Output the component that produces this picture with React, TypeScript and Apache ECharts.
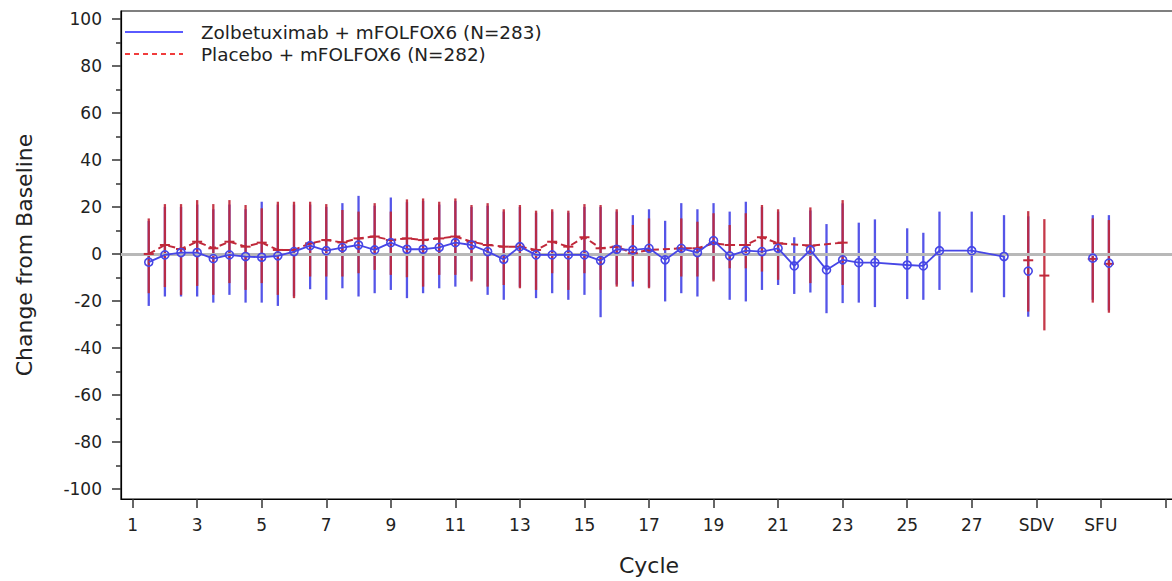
import { useEffect, useRef } from "react";
import * as echarts from "echarts";

// ---------- data ----------
const xTickValues = [1, 3, 5, 7, 9, 11, 13, 15, 17, 19, 21, 23, 25, 27, 29, 31, 33];
const xTickLabels = ["1", "3", "5", "7", "9", "11", "13", "15", "17", "19", "21", "23", "25", "27", "SDV", "SFU", ""];
const yTickValues = [-100, -80, -60, -40, -20, 0, 20, 40, 60, 80, 100];
const yMinorTickValues = [-90, -70, -50, -30, -10, 10, 30, 50, 70, 90];

const zolbVisit = [1.5, 2, 2.5, 3, 3.5, 4, 4.5, 5, 5.5, 6, 6.5, 7, 7.5, 8, 8.5, 9, 9.5, 10, 10.5, 11, 11.5, 12, 12.5, 13, 13.5, 14, 14.5, 15, 15.5, 16, 16.5, 17, 17.5, 18, 18.5, 19, 19.5, 20, 20.5, 21, 21.5, 22, 22.5, 23, 23.5, 24, 25, 25.5, 26, 27, 28];
const zolbMean = [-3.5, -0.4, 0.6, 0.6, -2.0, -0.4, -1.1, -1.4, -0.8, 1.0, 3.5, 1.4, 2.7, 3.8, 1.7, 4.8, 2.0, 2.0, 2.8, 4.8, 3.8, 1.0, -2.3, 3.1, -0.4, -0.4, -0.4, -0.4, -2.8, 2.0, 1.7, 2.4, -2.5, 2.4, 0.6, 5.7, -0.8, 1.4, 1.0, 2.4, -5.1, 1.7, -6.8, -2.5, -3.7, -3.7, -4.7, -5.1, 1.4, 1.4, -1.1];
const zolbLow = [-22.1, -18.1, -18.1, -18.1, -20.7, -17.4, -20.7, -20.7, -22.1, -18, -15, -19.5, -14.6, -18.1, -16.7, -15.3, -18.8, -16.7, -14.6, -13.9, -11, -17.4, -19.5, -14, -18.8, -16.7, -19.5, -17.4, -26.9, -13, -13.9, -14, -20.2, -16.7, -18.1, -11, -19.5, -20.2, -15.3, -13.2, -17.0, -16.4, -25.2, -20.9, -20.7, -22.6, -19.2, -19.5, -15.3, -16.4, -18.4];
const zolbHigh = [14, 20, 20, 21, 19, 21, 19, 22.2, 21, 21, 21, 20, 21.6, 24.7, 20.5, 24.0, 22, 22.5, 21, 22.5, 20, 20.5, 18, 20, 17.5, 18, 17.5, 20, 20, 18, 16.5, 19.0, 14.1, 21.6, 19.0, 21.6, 18.0, 22.2, 20, 18, 7.1, 18.5, 12.7, 21.5, 13.3, 14.7, 10.9, 9.0, 18.0, 18.0, 16.5];

const zolbExtraVisit = [28.75, 30.75, 31.25];
const zolbExtraMean = [-7.3, -1.8, -3.9];
const zolbExtraLow = [-26.7, -19.5, -24];
const zolbExtraHigh = [16, 16.5, 16.5];

const placVisit = [1.5, 2, 2.5, 3, 3.5, 4, 4.5, 5, 5.5, 6, 6.5, 7, 7.5, 8, 8.5, 9, 9.5, 10, 10.5, 11, 11.5, 12, 12.5, 13, 13.5, 14, 14.5, 15, 15.5, 16, 16.5, 17, 18, 18.5, 19, 19.5, 20, 20.5, 21, 22, 23];
const placMean = [0, 3.8, 2.1, 5.2, 2.4, 5.2, 3.1, 4.8, 1.7, 1.7, 4.5, 5.9, 4.9, 6.6, 7.4, 5.9, 6.6, 5.9, 6.6, 7.4, 5.2, 3.8, 3.1, 3.1, 1.7, 5.2, 3.1, 7.1, 2.4, 3.1, 0.3, 1.7, 2.4, 2.4, 4.5, 3.8, 3.8, 7.1, 4.5, 3.5, 4.8];
const placLow = [-16.7, -14.1, -17.4, -13.6, -17.4, -12.4, -15.3, -12.4, -17.4, -18.8, -9.6, -9.6, -9.6, -8.2, -6.8, -8.9, -9.9, -13.9, -8.9, -8.9, -11.7, -13.9, -13.2, -14.6, -15.3, -8.2, -15.3, -8.2, -15.3, -13.9, -11.7, -14.6, -9.6, -9.6, -11.7, -6.1, -6.1, -7.5, -11.0, -12.4, -13.2];
const placHigh = [15.1, 21.2, 21.2, 22.9, 21.2, 22.9, 20.8, 19.4, 22.2, 22.2, 22.2, 21.2, 18.7, 18.0, 21.6, 18.0, 23.2, 23.6, 22.2, 23.6, 20.8, 21.6, 19.0, 20.8, 18.4, 19.0, 18.4, 21.2, 20.8, 19.0, 12.3, 15.1, 15.1, 13.7, 17.3, 12.3, 17.3, 20.8, 19.0, 19.8, 22.9];

const placExtraVisit = [28.75, 29.25, 30.75, 31.25];
const placExtraMean = [-2.7, -9.2, -2.1, -4.2];
const placExtraLow = [-24.5, -32.5, -20.7, -25.0];
const placExtraHigh = [18.2, 14.8, 15.1, 14.4];

const legendNames = ["Zolbetuximab + mFOLFOX6 (N=283)", "Placebo + mFOLFOX6 (N=282)"];

// ---------- styles ----------
const BLUE = "#4646e6";
const RED = "#c0283a";
const FONT = "'DejaVu Sans', 'Liberation Sans', sans-serif";

function barData(xs: number[], lo: number[], hi: number[]) {
  return xs.map((x, i) => [x, lo[i], hi[i]]);
}
function ptData(xs: number[], ys: number[]) {
  return xs.map((x, i) => [x, ys[i]]);
}

function errorBarSeries(data: number[][], color: string, z: number) {
  return {
    type: "custom",
    z,
    silent: true,
    encode: { x: 0, y: [1, 2] },
    data,
    renderItem: (_p: any, api: any) => {
      const x = api.value(0);
      const a = api.coord([x, api.value(1)]);
      const b = api.coord([x, api.value(2)]);
      return {
        type: "line",
        shape: { x1: a[0], y1: a[1], x2: b[0], y2: b[1] },
        style: { stroke: color, lineWidth: 2.3, opacity: 0.92 },
      };
    },
  };
}

export default function App() {
  const ref = useRef<HTMLDivElement>(null);

  useEffect(() => {
    document.body.style.margin = "0";
    if (!ref.current) return;
    const chart = echarts.init(ref.current, undefined, { renderer: "svg" });

    const zolbAllPts = ptData(zolbVisit.concat(zolbExtraVisit), zolbMean.concat(zolbExtraMean));
    const placAllPts = ptData(placVisit.concat(placExtraVisit), placMean.concat(placExtraMean));

    const option: any = {
      animation: false,
      backgroundColor: "#ffffff",
      textStyle: { fontFamily: FONT },
      grid: {
        left: 121,
        top: 11,
        right: -5,
        bottom: 82,
        containLabel: false,
        outerBoundsMode: "none",
        show: true,
        borderColor: "#000",
        borderWidth: 1.2,
        backgroundColor: "transparent",
      },
      xAxis: {
        type: "value",
        min: 0.64,
        max: 33.36,
        name: "Cycle",
        nameLocation: "middle",
        nameGap: 55,
        nameTextStyle: { fontSize: 22, fontFamily: FONT, color: "#222" },
        axisLine: { show: true, onZero: false, lineStyle: { color: "#000", width: 1.2 } },
        axisTick: { show: true, length: 9, customValues: xTickValues, lineStyle: { color: "#333", width: 1.5 } },
        axisLabel: {
          show: true,
          customValues: xTickValues.slice(0, 16),
          margin: 17,
          fontSize: 17,
          fontFamily: FONT,
          color: "#222",
          formatter: (v: number) => {
            const i = xTickValues.indexOf(v);
            return i >= 0 ? xTickLabels[i] : "";
          },
        },
        splitLine: { show: false },
      },
      yAxis: [
        {
          type: "value",
          min: -104.2,
          max: 103.3,
          name: "Change from Baseline",
          nameLocation: "middle",
          nameGap: 86,
          nameTextStyle: { fontSize: 22, fontFamily: FONT, color: "#222" },
          axisLine: { show: true, onZero: false, lineStyle: { color: "#000", width: 1.2 } },
          axisTick: { show: true, length: 9, customValues: yTickValues, lineStyle: { color: "#333", width: 1.5 } },
          axisLabel: {
            show: true,
            customValues: yTickValues,
            margin: 19,
            fontSize: 17,
            fontFamily: FONT,
            color: "#222",
          },
          splitLine: { show: false },
        },
        {
          type: "value",
          position: "left",
          min: -104.2,
          max: 103.3,
          axisLine: { show: false, onZero: false },
          axisTick: { show: true, length: 5, customValues: yMinorTickValues, lineStyle: { color: "#333", width: 1.5 } },
          axisLabel: { show: false },
          splitLine: { show: false },
        },
      ],
      graphic: [
        {
          type: "line",
          shape: { x1: 125, y1: 32, x2: 183, y2: 32 },
          style: { stroke: "#5a5aff", lineWidth: 2 },
        },
        {
          type: "text",
          x: 201,
          y: 32,
          style: { text: legendNames[0], fontSize: 18.4, fontFamily: FONT, fill: "#222", verticalAlign: "middle", align: "left" },
        },
        {
          type: "line",
          shape: { x1: 125, y1: 54, x2: 183, y2: 54 },
          style: { stroke: "#f03c3c", lineWidth: 2, lineDash: [5, 4] },
        },
        {
          type: "text",
          x: 201,
          y: 54,
          style: { text: legendNames[1], fontSize: 18.4, fontFamily: FONT, fill: "#222", verticalAlign: "middle", align: "left" },
        },
      ],
      series: [
        {
          type: "line",
          z: 1,
          data: [],
          silent: true,
          markLine: {
            silent: true,
            symbol: "none",
            label: { show: false },
            lineStyle: { color: "#b8b8b8", width: 3, type: "solid" },
            data: [{ yAxis: 0 }],
          },
        },
        errorBarSeries(barData(zolbVisit.concat(zolbExtraVisit), zolbLow.concat(zolbExtraLow), zolbHigh.concat(zolbExtraHigh)), BLUE, 2),
        errorBarSeries(barData(placVisit.concat(placExtraVisit), placLow.concat(placExtraLow), placHigh.concat(placExtraHigh)), RED, 3),
        {
          type: "line",
          z: 4,
          silent: true,
          showSymbol: false,
          data: ptData(placVisit, placMean),
          lineStyle: { color: RED, width: 2, type: [7, 4] },
        },
        {
          type: "custom",
          z: 5,
          silent: true,
          encode: { x: 0, y: 1 },
          data: placAllPts,
          renderItem: (_p: any, api: any) => {
            const c = api.coord([api.value(0), api.value(1)]);
            return {
              type: "line",
              shape: { x1: c[0] - 5, y1: c[1], x2: c[0] + 5, y2: c[1] },
              style: { stroke: RED, lineWidth: 2 },
            };
          },
        },
        {
          type: "line",
          z: 6,
          silent: true,
          showSymbol: false,
          data: ptData(zolbVisit, zolbMean),
          lineStyle: { color: BLUE, width: 1.8 },
        },
        {
          type: "custom",
          z: 7,
          silent: true,
          encode: { x: 0, y: 1 },
          data: zolbAllPts,
          renderItem: (_p: any, api: any) => {
            const c = api.coord([api.value(0), api.value(1)]);
            return {
              type: "circle",
              shape: { cx: c[0], cy: c[1], r: 4 },
              style: { fill: "none", stroke: BLUE, lineWidth: 1.6 },
            };
          },
        },
      ],
    };

    chart.setOption(option);
    return () => chart.dispose();
  }, []);

  return (
    <div
      ref={ref}
      style={{ position: "absolute", left: 0, top: 0, width: 1172, height: 581 }}
    />
  );
}
